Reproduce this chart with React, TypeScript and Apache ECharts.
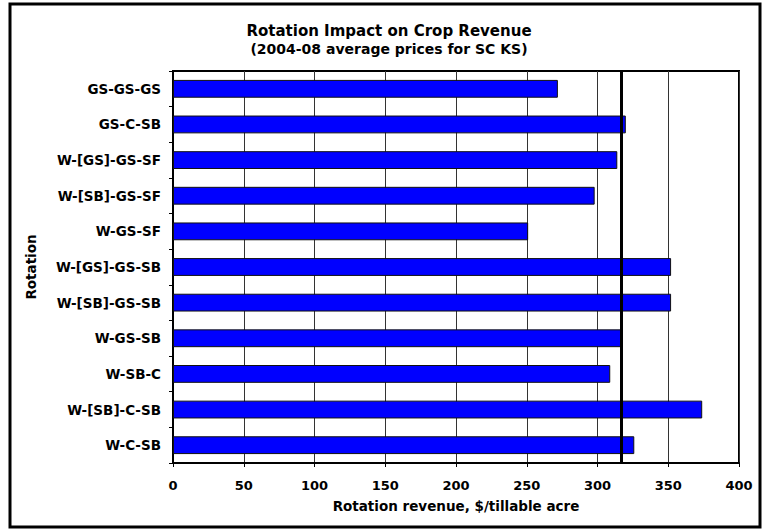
import React, { useEffect, useRef } from "react";
import * as echarts from "echarts";

// Crop rotations, listed top to bottom
const rotations = [
  "GS-GS-GS",
  "GS-C-SB",
  "W-[GS]-GS-SF",
  "W-[SB]-GS-SF",
  "W-GS-SF",
  "W-[GS]-GS-SB",
  "W-[SB]-GS-SB",
  "W-GS-SB",
  "W-SB-C",
  "W-[SB]-C-SB",
  "W-C-SB",
];

// Rotation revenue, $/tillable acre
const revenue = [272, 320, 314, 298, 251, 352, 352, 318, 309, 374, 326];

// Value-axis range and step
const revenueMin = 0;
const revenueMax = 400;
const revenueStep = 50;

const titleText = "Rotation Impact on Crop Revenue";
const subtitleText = "(2004-08 average prices for SC KS)";
const xAxisName = "Rotation revenue, $/tillable acre";
const yAxisName = "Rotation";

const FONT = "DejaVu Sans";

export default function App() {
  const ref = useRef<HTMLDivElement>(null);

  useEffect(() => {
    if (!ref.current) return;
    const chart = echarts.init(ref.current, undefined, { renderer: "svg" });

    // average revenue across all rotations, drawn as a vertical reference line
    const mean = revenue.reduce((s, v) => s + v, 0) / revenue.length;

    const boldText = (size: number) => ({
      fontFamily: FONT,
      fontWeight: "bold" as const,
      fontSize: size,
      color: "#000",
    });

    chart.setOption({
      animation: false,
      backgroundColor: "#fff",
      title: [
        {
          text: titleText,
          left: 389,
          top: 23,
          textAlign: "center",
          padding: 0,
          textStyle: boldText(15),
        },
        {
          text: subtitleText,
          left: 389,
          top: 42,
          textAlign: "center",
          padding: 0,
          textStyle: boldText(14),
        },
      ],
      graphic: [
        {
          type: "rect",
          shape: { x: 10, y: 4, width: 750, height: 523 },
          style: { fill: "none", stroke: "#000", lineWidth: 3 },
          silent: true,
        },
      ],
      grid: {
        left: 173,
        right: 23,
        top: 71,
        bottom: 67,
        containLabel: false,
        outerBoundsMode: "none",
        show: true,
        borderColor: "#000",
        borderWidth: 2,
        backgroundColor: "transparent",
      },
      xAxis: {
        type: "value",
        min: revenueMin,
        max: revenueMax,
        interval: revenueStep,
        name: xAxisName,
        nameLocation: "middle",
        nameGap: 36,
        nameTextStyle: boldText(13.5),
        axisLine: { show: true, lineStyle: { color: "#000", width: 2 } },
        axisTick: { show: true, length: 4, lineStyle: { color: "#000", width: 1 } },
        axisLabel: { ...boldText(13), margin: 16 },
        splitLine: { show: true, lineStyle: { color: "#333", width: 1 } },
      },
      yAxis: {
        type: "category",
        data: rotations,
        inverse: true,
        name: yAxisName,
        nameLocation: "middle",
        nameGap: 135,
        nameTextStyle: boldText(13.5),
        axisLine: { show: true, lineStyle: { color: "#000", width: 2 } },
        axisTick: {
          show: true,
          length: 4,
          alignWithLabel: false,
          lineStyle: { color: "#000", width: 1 },
        },
        axisLabel: { ...boldText(13.5), margin: 12 },
        splitLine: { show: false },
      },
      series: [
        {
          type: "bar",
          data: revenue,
          barWidth: "50%",
          itemStyle: { color: "#0000FF", borderColor: "#111", borderWidth: 1 },
          emphasis: { disabled: true },
          silent: true,
          markLine: {
            silent: true,
            symbol: ["none", "none"],
            label: { show: false },
            lineStyle: { color: "#000", width: 3, type: "solid" },
            emphasis: { disabled: true },
            data: [{ xAxis: mean }],
          },
        },
      ],
    });

    return () => chart.dispose();
  }, []);

  return (
    <div
      ref={ref}
      style={{ position: "absolute", left: 0, top: 0, width: 762, height: 530 }}
    />
  );
}
